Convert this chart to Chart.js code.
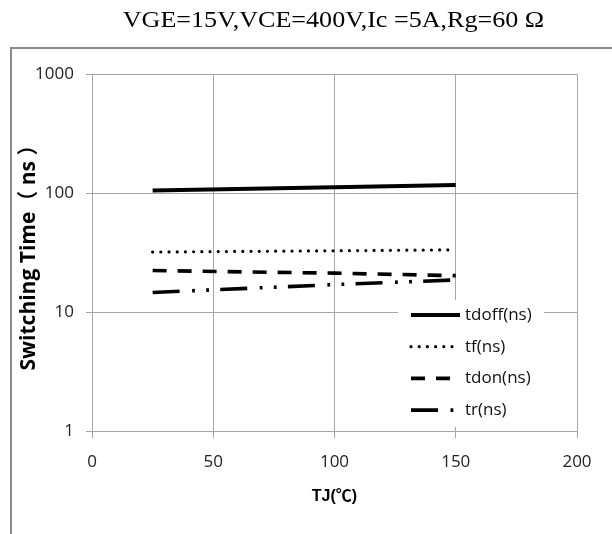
<!DOCTYPE html>
<html><head><meta charset="utf-8">
<script src="https://cdn.jsdelivr.net/npm/chart.js@4"></script>
<style>html,body{margin:0;padding:0;background:#fff}#wrap{width:612px;height:534px}</style>
</head><body><div id="wrap"><canvas id="c" width="612" height="534"></canvas></div>
<script>
const chartTitle = 'VGE=15V,VCE=400V,Ic =5A,Rg=60 Ω';
const xAxisTitle = 'TJ(℃)';
const yAxisTitle = 'Switching Time（ ns ）';
const tj = [25, 100, 150];
const tdoff = [105, 112, 117];
const tf = [31.9, 32.7, 33.3];
const tdon = [22.3, 21.2, 20.2];
const tr = [14.6, 17.0, 18.6];
const seriesNames = ['tdoff(ns)', 'tf(ns)', 'tdon(ns)', 'tr(ns)'];
const xTicks = [0, 50, 100, 150, 200];
const yTicks = [1, 10, 100, 1000];

const FONT = "'Open Sans', 'Noto Sans CJK SC', sans-serif";
const GRID = '#a6a6a6';

function pts(ys) { return tj.map((x, i) => ({x: x, y: ys[i]})); }

const frameTitlePlugin = {
  id: 'frameTitle',
  afterDraw(chart) {
    const ctx = chart.ctx;
    ctx.save();
    ctx.strokeStyle = '#8c8c8c';
    ctx.lineWidth = 2;
    ctx.beginPath();
    ctx.moveTo(11, 540); ctx.lineTo(11, 48); ctx.lineTo(620, 48);
    ctx.stroke();
    ctx.fillStyle = '#000';
    ctx.font = '24px "Liberation Serif", "Times New Roman", serif';
    ctx.textAlign = 'center';
    ctx.textBaseline = 'alphabetic';
    ctx.translate(333.5, 26.7);
    ctx.scale(1.087, 1);
    ctx.fillText(chartTitle, 0, 0);
    ctx.restore();
  }
};

const innerLegendPlugin = {
  id: 'innerLegend',
  afterDraw(chart) {
    const ctx = chart.ctx;
    ctx.save();
    ctx.fillStyle = '#fff';
    ctx.fillRect(398, 300, 146, 127);
    chart.data.datasets.forEach((ds, i) => {
      const y = 315 + i * 31.7;
      ctx.beginPath();
      ctx.setLineDash(ds.borderDash || []);
      ctx.lineDashOffset = 0;
      ctx.lineCap = ds.borderCapStyle || 'butt';
      ctx.lineWidth = ds.borderWidth;
      ctx.strokeStyle = ds.borderColor;
      ctx.moveTo(411, y); ctx.lineTo(460, y);
      ctx.stroke();
      ctx.setLineDash([]);
      ctx.fillStyle = '#111';
      ctx.font = '17px ' + FONT;
      ctx.textAlign = 'left';
      ctx.textBaseline = 'middle';
      ctx.fillText(ds.label, 465, y);
    });
    ctx.restore();
  }
};

new Chart(document.getElementById('c'), {
  type: 'line',
  data: {
    datasets: [
      {label: seriesNames[0], data: pts(tdoff), borderColor: '#000', borderWidth: 4, borderDash: [], borderCapStyle: 'butt'},
      {label: seriesNames[1], data: pts(tf), borderColor: '#000', borderWidth: 3.2, borderDash: [0, 8.2], borderCapStyle: 'round'},
      {label: seriesNames[2], data: pts(tdon), borderColor: '#000', borderWidth: 3.6, borderDash: [14, 11], borderCapStyle: 'butt'},
      {label: seriesNames[3], data: pts(tr), borderColor: '#000', borderWidth: 3.6, borderDash: [27, 12.5, 2.8, 11.3, 2.8, 11.3], borderCapStyle: 'butt'}
    ]
  },
  options: {
    responsive: false,
    animation: false,
    devicePixelRatio: 1,
    layout: {padding: {left: 0, top: 74, right: 35, bottom: 0}},
    elements: {point: {radius: 0}, line: {tension: 0, fill: false}},
    plugins: {legend: {display: false}, title: {display: false}, tooltip: {enabled: false}},
    scales: {
      x: {
        type: 'linear', min: 0, max: 200,
        afterBuildTicks: s => { s.ticks = xTicks.map(v => ({value: v})); },
        afterFit: s => { s.height = 103; },
        grid: {color: GRID, lineWidth: 1, tickLength: 7, drawTicks: true},
        border: {color: GRID, width: 1},
        ticks: {font: {family: FONT, size: 17, lineHeight: 1.2}, color: '#222', padding: 14, maxRotation: 0, autoSkip: false,
                callback: v => String(v)},
        title: {display: true, text: xAxisTitle, color: '#000',
                font: {family: "'Liberation Sans Narrow', 'Liberation Sans', 'Noto Sans CJK SC', sans-serif", size: 16, weight: 'bold', lineHeight: 1.2},
                padding: {top: 0, bottom: 28}}
      },
      y: {
        type: 'logarithmic', min: 1, max: 1000,
        afterBuildTicks: s => { s.ticks = yTicks.map(v => ({value: v})); },
        afterFit: s => { s.width = 92; },
        grid: {color: GRID, lineWidth: 1, tickLength: 6, drawTicks: true},
        border: {color: GRID, width: 1},
        ticks: {font: {family: FONT, size: 17, lineHeight: 1.2}, color: '#222', padding: 12, autoSkip: false,
                callback: v => (yTicks.includes(v) ? String(v) : '')},
        title: {display: true, text: yAxisTitle, color: '#000',
                font: {family: FONT, size: 21, weight: 'bold', lineHeight: 1.2},
                padding: {top: 16, bottom: 0}}
      }
    }
  },
  plugins: [frameTitlePlugin, innerLegendPlugin]
});
</script>
</body></html>
